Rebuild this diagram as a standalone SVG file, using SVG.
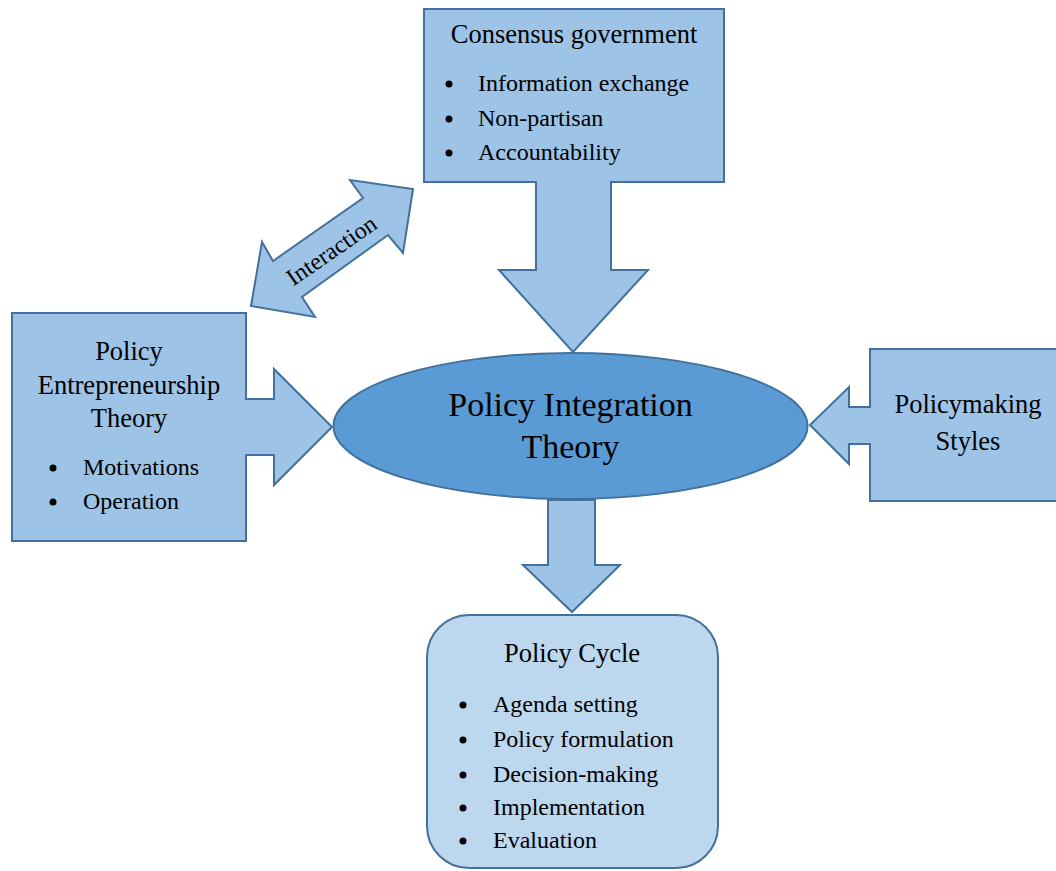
<svg xmlns="http://www.w3.org/2000/svg" width="1056" height="871" viewBox="0 0 1056 871">
<style>
.shape{fill:#9DC3E6;stroke:#41719C;stroke-width:2;stroke-linejoin:miter}
.t{font-family:"Liberation Serif","Times New Roman",serif;fill:#000}
.title{font-size:26.5px;text-anchor:middle}
.item{font-size:24px}
.main{font-size:34px;text-anchor:middle}
.dot{fill:#000}
</style>
<rect width="1056" height="871" fill="#fff"/>
<g id="connectors">
<path id="interaction" class="shape" d="M251,306 L262,242 L273,261 L363,198 L350,180 L413,189 L403,253 L388,235 L302,297 L315,317 Z"/>
<text class="t" font-size="24" text-anchor="middle" transform="translate(336,257) rotate(-34.7)">Interaction</text>
<path id="down-arrow" class="shape" d="M548,500 L595,500 L595,565 L620,565 L572,612 L523,565 L548,565 Z"/>
</g>
<g id="consensus">
<path class="shape" d="M424,9 L724,9 L724,182 L611,182 L611,270 L648,270 L573,352 L499,270 L536,270 L536,182 L424,182 Z"/>
<text class="t title" x="574" y="43">Consensus government</text>
<circle class="dot" cx="449" cy="84" r="3.5"/>
<circle class="dot" cx="449" cy="119" r="3.5"/>
<circle class="dot" cx="449" cy="153" r="3.5"/>
<text class="t item" x="478" y="91">Information exchange</text>
<text class="t item" x="478" y="126">Non-partisan</text>
<text class="t item" x="478" y="160">Accountability</text>
</g>
<g id="entrepreneurship">
<path class="shape" d="M12,313 L246,313 L246,399 L274,399 L274,369 L332,427 L274,485 L274,455 L246,455 L246,541 L12,541 Z"/>
<text class="t title" x="129" y="360">Policy</text>
<text class="t title" x="129" y="394">Entrepreneurship</text>
<text class="t title" x="129" y="427">Theory</text>
<circle class="dot" cx="53" cy="468" r="3.5"/>
<circle class="dot" cx="53" cy="502" r="3.5"/>
<text class="t item" x="83" y="475">Motivations</text>
<text class="t item" x="83" y="509">Operation</text>
</g>
<g id="policymaking">
<path class="shape" d="M1062,349 L870,349 L870,407 L849,407 L849,387 L810,425 L849,464 L849,444 L870,444 L870,501 L1062,501 Z"/>
<text class="t title" x="968" y="413">Policymaking</text>
<text class="t title" x="968" y="450">Styles</text>
</g>
<g id="integration">
<ellipse cx="570.5" cy="426" rx="237" ry="73" fill="#5B9BD5" stroke="#41719C" stroke-width="2"/>
<text class="t main" x="570.5" y="416">Policy Integration</text>
<text class="t main" x="570.5" y="458">Theory</text>
</g>
<g id="policy-cycle">
<rect x="427" y="615" width="291" height="253" rx="42" ry="42" fill="#BDD7EE" stroke="#41719C" stroke-width="2"/>
<text class="t title" x="572" y="662">Policy Cycle</text>
<circle class="dot" cx="463" cy="705" r="3.5"/>
<circle class="dot" cx="463" cy="740" r="3.5"/>
<circle class="dot" cx="463" cy="775" r="3.5"/>
<circle class="dot" cx="463" cy="808" r="3.5"/>
<circle class="dot" cx="463" cy="841" r="3.5"/>
<text class="t item" x="493" y="712">Agenda setting</text>
<text class="t item" x="493" y="747">Policy formulation</text>
<text class="t item" x="493" y="782">Decision-making</text>
<text class="t item" x="493" y="815">Implementation</text>
<text class="t item" x="493" y="848">Evaluation</text>
</g>
</svg>
